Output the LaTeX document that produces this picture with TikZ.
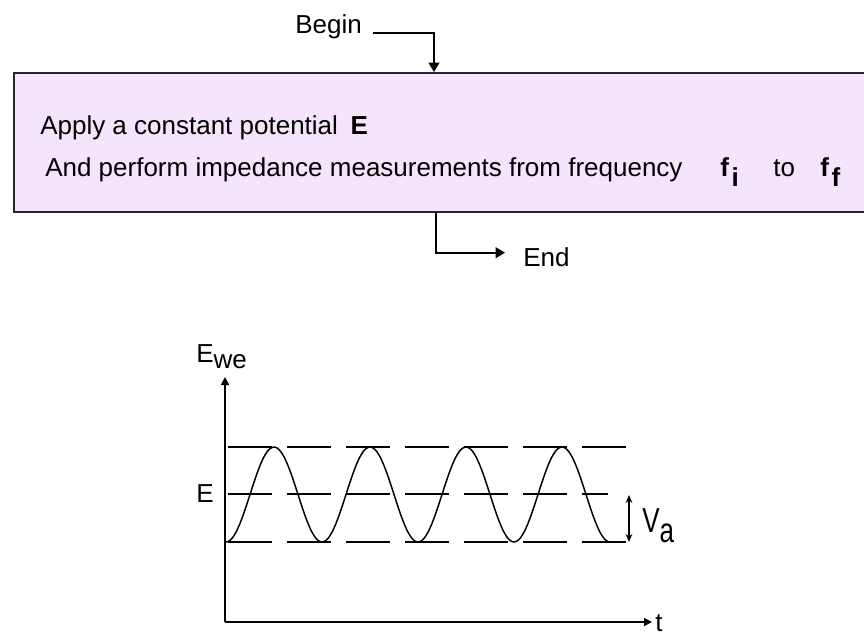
\documentclass[tikz,border=0pt]{standalone}
\usepackage{graphicx}
\usepackage{fontspec}
\setmainfont{Liberation Sans}
\usetikzlibrary{arrows.meta}
\definecolor{boxlilac}{RGB}{244,228,252}
\newcommand{\plaintext}{\fontsize{19.5}{23}\selectfont}

\begin{document}
\begin{tikzpicture}[x=0.75pt,y=-0.75pt,
    flow/.style={line width=1.3pt,-{Triangle[length=7pt,width=8pt]}},
    axis/.style={line width=1.3pt,-{Triangle[length=6pt,width=6pt]}},
    level/.style={line width=1.3pt,dash pattern=on 33pt off 11.25pt},
    lbl/.style={inner sep=0pt,font=\plaintext}]
  \useasboundingbox (0,0) rectangle (864,636);
  \clip (0,0) rectangle (864,636);
  \node[lbl,anchor=base west] (begin) at (295,33) {Begin};
  \node[draw=black!85,line width=1.5pt,fill=boxlilac,anchor=north west,
    minimum width=650pt,minimum height=104pt,inner sep=0pt] (box) at (13,72) {};
  \node[lbl,anchor=base west] (apply) at (40,134) {Apply a constant potential\hspace{4pt} \textbf{E}};
  \node[lbl,anchor=base west] (perform) at (45,176) {And perform impedance measurements from frequency};
  \node[lbl,anchor=base west] (fi) at (720,176) {\textbf{f}\kern2pt\raisebox{-7.5pt}{\textbf{i}}};
  \node[lbl,anchor=base west] (to) at (773,176) {to};
  \node[lbl,anchor=base west] (ff) at (820,176) {\textbf{f}\kern2pt\raisebox{-7.5pt}{\textbf{f}}};
  \node[lbl,anchor=base west] (end) at (523,266) {End};
  \coordinate (boxin) at (434,72);
  \coordinate (boxout) at (436,212);
  \draw[flow] ([xshift=8.5pt]begin.base east) -| (boxin);
  \draw[flow,shorten >=13.5pt] (boxout) |- ([yshift=3pt]end.west);

  \coordinate (origin) at (225,622);
  \coordinate (ytop) at (225,377);
  \coordinate (xend) at (652,622);
  \draw[axis] (origin) -- (ytop);
  \draw[axis] (origin) -- (xend);
  \node[lbl,anchor=base west] (ewe) at (196,362) {E\raisebox{-4.5pt}{we}};
  \node[lbl,anchor=base west] (tlabel) at (655,631) {t};
  \node[lbl,anchor=east] (elabel) at (214,494) {E};
  \foreach \yy/\xe in {447/632,494/608,542/632}
    \draw[level] (228,\yy) -- (\xe,\yy);
  \draw[line width=1.1pt] plot[domain=226:610,samples=160,smooth]
    (\x,{494.5-47.5*cos(3.75*(\x-274))});
  \coordinate (vatop) at (629,495);
  \coordinate (vabot) at (629,542);
  \draw[line width=1.1pt,{Stealth[length=6pt,width=5pt]}-{Stealth[length=6pt,width=5pt]}] (vatop) -- (vabot);
  \node[lbl,anchor=base west] (va) at (642,532)
    {\fontsize{26}{30}\selectfont\scalebox{0.75}[1]{V\raisebox{-7.5pt}{a}}};
\end{tikzpicture}
\end{document}
